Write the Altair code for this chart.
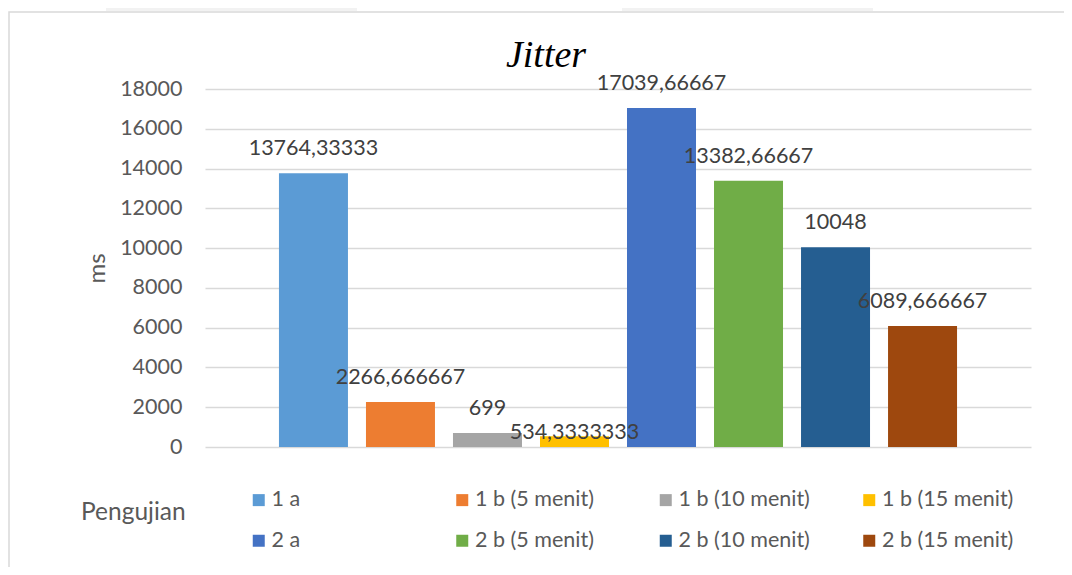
import altair as alt
import pandas as pd

chart_title = "Jitter"
y_title = "ms"
legend_title = "Pengujian"
series = ["1 a", "1 b (5 menit)", "1 b (10 menit)", "1 b (15 menit)",
          "2 a", "2 b (5 menit)", "2 b (10 menit)", "2 b (15 menit)"]
values = [13764.33333, 2266.666667, 699, 534.3333333,
          17039.66667, 13382.66667, 10048, 6089.666667]
value_labels = ["13764,33333", "2266,666667", "699", "534,3333333",
                "17039,66667", "13382,66667", "10048", "6089,666667"]
colors = ["#5B9BD5", "#ED7D31", "#A5A5A5", "#FFC000",
          "#4472C4", "#70AD47", "#255E91", "#9E480E"]
y_ticks = [0, 2000, 4000, 6000, 8000, 10000, 12000, 14000, 16000, 18000]

df = pd.DataFrame({"series": series, "value": values, "label": value_labels})
one = pd.DataFrame({"k": [0]})

FONT = "Lato"
GREY = "#595959"
FS = 21.5

x_enc = alt.X("series:N", sort=series, axis=None,
              scale=alt.Scale(paddingInner=0.207, paddingOuter=0.85))
y_enc = alt.Y("value:Q",
              scale=alt.Scale(domain=[0, 18000], nice=False),
              axis=alt.Axis(values=y_ticks, format="d", title=y_title, domain=False,
                            ticks=False, tickSize=0, labelPadding=23, labelFont=FONT,
                            labelFontSize=FS, labelColor=GREY, titleFont=FONT,
                            titleFontSize=24, titleColor=GREY, titleFontWeight="normal",
                            titlePadding=10, gridColor="#D9D9D9", gridWidth=1.3))

border = alt.Chart(one).mark_rect(filled=False, stroke="#D9D9D9", strokeWidth=1.5).encode(
    x=alt.value(-196), x2=alt.value(900), y=alt.value(-77), y2=alt.value(520))
tab1 = alt.Chart(one).mark_rect(fill="#F2F2F2").encode(
    x=alt.value(-99), x2=alt.value(152), y=alt.value(-90), y2=alt.value(-78))
tab2 = alt.Chart(one).mark_rect(fill="#F2F2F2").encode(
    x=alt.value(417), x2=alt.value(668), y=alt.value(-90), y2=alt.value(-78))

title_mark = alt.Chart(one).mark_text(
    font="Liberation Serif", fontStyle="italic", fontSize=38, color="black",
    align="center", baseline="alphabetic").encode(
    x=alt.value(341), y=alt.value(-22), text=alt.value(chart_title))

bars = alt.Chart(df).mark_bar().encode(
    x=x_enc, y=y_enc,
    color=alt.Color("series:N", sort=series,
                    scale=alt.Scale(domain=series, range=colors),
                    legend=alt.Legend(orient="none", legendX=-124, legendY=400,
                                      direction="horizontal", columns=4, gridAlign="all",
                                      columnPadding=48.5, rowPadding=18,
                                      symbolType="square", symbolSize=144,
                                      symbolStrokeWidth=0, symbolOpacity=1,
                                      labelFont=FONT, labelFontSize=FS, labelColor=GREY,
                                      labelOffset=2, labelLimit=300,
                                      title=legend_title, titleOrient="left",
                                      titleBaseline="alphabetic",
                                      titleFont=FONT, titleFontSize=24.5, titleColor=GREY,
                                      titleFontWeight="normal", titlePadding=62)))

main_labels = alt.Chart(df).transform_filter(
    alt.datum.series != "1 b (15 menit)").mark_text(
    font=FONT, fontSize=FS, color="#404040", baseline="middle", dy=-24).encode(
    x=x_enc, y=y_enc, text="label:N")

low_label = alt.Chart(df).transform_filter(
    alt.datum.series == "1 b (15 menit)").mark_text(
    font=FONT, fontSize=FS, color="#404040", baseline="middle", dy=-3).encode(
    x=x_enc, y=y_enc, text="label:N")

chart = alt.layer(border, tab1, tab2, title_mark, bars, main_labels, low_label).properties(
    width=826, height=358,
    padding={"left": 197, "top": 81, "right": 33, "bottom": 120},
    autosize=alt.AutoSizeParams(type="none"),
).configure_view(stroke=None)

chart.save("out.html", embed_options={"renderer": "svg", "actions": False})
